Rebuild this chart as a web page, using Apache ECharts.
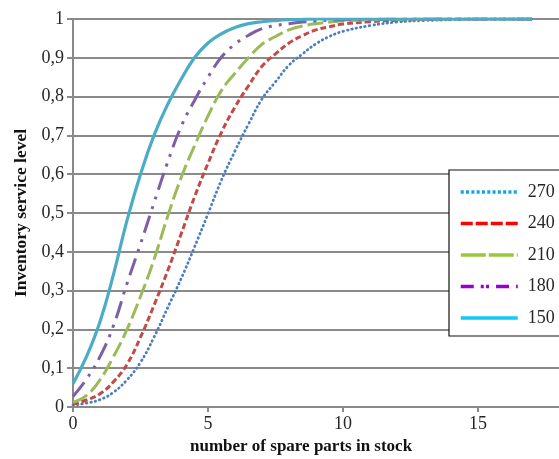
<!DOCTYPE html>
<html>
<head>
<meta charset="utf-8">
<script src="https://cdn.jsdelivr.net/npm/echarts@6/dist/echarts.min.js"></script>
<style>
  html, body { margin: 0; padding: 0; background: #fff; }
  #chart { width: 559px; height: 459px; }
</style>
</head>
<body>
<div id="chart"></div>
<script>
// number of spare parts in stock (sample points)
const xPoints = [0, 0.5, 1, 1.5, 2, 2.5, 3, 3.5, 4, 4.5, 5, 5.5, 6, 6.5, 7, 7.5, 8, 8.5, 9, 9.5, 10, 11, 12, 13, 14, 15, 16, 17]

const level270 = [0.005, 0.01, 0.019, 0.038, 0.07, 0.115, 0.18, 0.255, 0.33, 0.412, 0.498, 0.585, 0.66, 0.729, 0.794, 0.838, 0.881, 0.91, 0.936, 0.955, 0.968, 0.983, 0.992, 0.996, 0.998, 1, 1, 1]
const level240 = [0.007, 0.018, 0.034, 0.065, 0.11, 0.18, 0.262, 0.35, 0.445, 0.541, 0.628, 0.708, 0.773, 0.828, 0.878, 0.91, 0.938, 0.957, 0.972, 0.98, 0.987, 0.993, 0.997, 0.999, 1, 1, 1, 1]
const level210 = [0.012, 0.03, 0.07, 0.13, 0.2, 0.285, 0.38, 0.49, 0.59, 0.673, 0.75, 0.816, 0.86, 0.9, 0.935, 0.955, 0.972, 0.982, 0.988, 0.992, 0.995, 0.998, 0.999, 1, 1, 1, 1, 1]
const level180 = [0.027, 0.072, 0.13, 0.21, 0.318, 0.42, 0.526, 0.63, 0.722, 0.79, 0.85, 0.902, 0.935, 0.958, 0.975, 0.983, 0.988, 0.992, 0.995, 0.997, 0.998, 0.999, 1, 1, 1, 1, 1, 1]
const level150 = [0.06, 0.13, 0.22, 0.342, 0.481, 0.6, 0.7, 0.779, 0.844, 0.9, 0.938, 0.962, 0.978, 0.988, 0.993, 0.996, 0.998, 0.999, 1, 1, 1, 1, 1, 1, 1, 1, 1, 1]

const seriesNames = ['270', '240', '210', '180', '150']
const xTicks = [0, 5, 10, 15]

const font = '"Liberation Serif", "Times New Roman", serif'
const gridGray = '#8a8a8a'

const pairs = (ys) => ys.map((y, i) => [xPoints[i], y])

// line look in the plot / in the legend (legend colours and dashes differ in the original)
const styles = {
  '270': { color: '#4a7ebf', legend: '#0aa6f0', type: [0.5, 4], width: 2.8, cap: 'round', legendType: [3, 2.3] },
  '240': { color: '#c24a47', legend: '#ff0000', type: [6, 3], width: 3, cap: 'butt', legendType: [12, 3] },
  '210': { color: '#9bbb59', legend: '#99c93a', type: [16, 5], width: 3, cap: 'butt', legendType: [25, 3] },
  '180': { color: '#7e5fa5', legend: '#9a00cc', type: [18, 7, 3, 7, 3, 7], width: 3, cap: 'butt', legendType: [13, 7, 3, 2.3, 3, 7] },
  '150': { color: '#4bacc6', legend: '#12c8f4', type: 'solid', width: 3.2, cap: 'butt', legendType: 'solid' },
}
const levels = { '270': level270, '240': level240, '210': level210, '180': level180, '150': level150 }

const chart = echarts.init(document.getElementById('chart'), null, { renderer: 'canvas' })
chart.setOption({
  backgroundColor: '#fff',
  animation: false,
  grid: { left: 73, top: 19, bottom: 52, right: -54, outerBoundsMode: 'none', containLabel: false },
  xAxis: {
    type: 'value',
    min: 0,
    max: 20,
    interval: 5,
    axisLine: { lineStyle: { color: gridGray, width: 2 } },
    axisTick: { show: true, length: 5, lineStyle: { color: gridGray, width: 2 } },
    splitLine: { show: false },
    axisLabel: {
      color: '#262626',
      fontFamily: font,
      fontSize: 18,
      margin: 8,
      formatter: (v) => (xTicks.includes(v) ? String(v) : ''),
    },
  },
  yAxis: {
    type: 'value',
    min: 0,
    max: 1,
    interval: 0.1,
    name: 'Inventory service level',
    nameLocation: 'middle',
    nameGap: 43,
    nameTextStyle: { fontFamily: font, fontSize: 17.5, fontWeight: 'bold', color: '#111' },
    axisLine: { show: true, lineStyle: { color: gridGray, width: 2 } },
    axisTick: { show: true, length: 6, lineStyle: { color: gridGray, width: 2 } },
    splitLine: { lineStyle: { color: gridGray, width: 2 } },
    axisLabel: {
      color: '#262626',
      fontFamily: font,
      fontSize: 18,
      margin: 9,
      formatter: (v) => (v === 0 || v === 1 ? String(v) : v.toFixed(1).replace('.', ',')),
    },
  },
  legend: {
    orient: 'vertical',
    left: 449,
    top: 171,
    z: 10,
    padding: [12, 4, 12, 10],
    itemWidth: 57,
    itemHeight: 14,
    itemGap: 13.5,
    textStyle: { fontFamily: font, fontSize: 18, color: '#262626', padding: [0, 0, 0, 5] },
    data: seriesNames.map((n) => ({
      name: n,
      itemStyle: { color: styles[n].legend, opacity: 0 },
      lineStyle: { color: styles[n].legend, type: styles[n].legendType, width: 3.5, cap: 'butt' },
    })),
  },
  graphic: [
    {
      type: 'rect',
      z: 5,
      shape: { x: 449, y: 170, width: 160, height: 166 },
      style: { fill: '#fff', stroke: '#111', lineWidth: 1.2 },
    },
    {
      type: 'text',
      left: 190,
      top: 438,
      style: {
        text: 'number of spare parts in stock',
        font: 'bold 17px ' + font,
        fill: '#111',
      },
    },
  ],
  series: seriesNames.map((n) => ({
    name: n,
    type: 'line',
    smooth: 0.45,
    symbol: 'none',
    z: 3,
    color: styles[n].color,
    lineStyle: { color: styles[n].color, type: styles[n].type, width: styles[n].width, cap: styles[n].cap },
    data: pairs(levels[n]),
  })),
})
</script>
</body>
</html>
